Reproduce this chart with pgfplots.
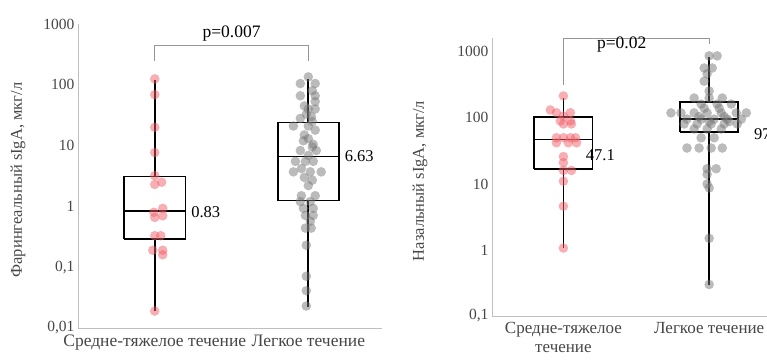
\documentclass[border=0pt]{standalone}
\usepackage{pgfplots}
\pgfplotsset{compat=1.18}
\usepackage{pgfplotstable}
\usepackage{fontspec}
\setmainfont{Liberation Serif}

\definecolor{pinkpt}{RGB}{240,95,105}
\definecolor{graypt}{RGB}{120,120,120}
\definecolor{axgray}{RGB}{191,191,191}
\definecolor{txtgray}{RGB}{70,70,70}
\definecolor{brgray}{RGB}{150,150,150}

% left panel: moderate-severe (group 1)
\pgfplotstableread{
x y
1.000 125
1.000 69
1.000 20
1.000 7.7
1.000 3.2
1.000 2.3
1.045 2.5
1.052 0.93
0.994 0.80
1.052 0.70
1.000 0.66
1.000 0.33
1.039 0.33
0.987 0.19
1.052 0.19
1.052 0.16
1.000 0.019
}\pharA
% left panel: mild (group 2)
\pgfplotstableread{
x y
2.000 135
1.948 105
2.045 105
2.026 80
1.948 66
2.045 66
2.045 53
1.974 45
2.000 40
2.045 40
1.987 33
2.020 30
1.948 28
2.026 25
1.903 21
2.000 21
2.045 18
1.974 15
2.000 13
1.968 12
2.032 10.5
2.026 9.5
1.948 8.3
2.052 8.3
2.000 6.9
1.916 5.5
1.981 5.5
2.032 5.5
1.955 4.2
1.903 3.7
2.013 3.7
2.084 3.7
1.974 3.0
2.026 2.7
2.000 2.2
1.955 1.5
2.045 1.5
1.948 1.2
2.013 1.2
1.968 0.93
2.032 0.93
1.981 0.71
2.032 0.71
2.013 0.57
1.981 0.44
2.019 0.44
1.987 0.23
1.987 0.071
1.987 0.041
1.987 0.023
}\pharB
% right panel: moderate-severe
\pgfplotstableread{
x y
1.000 215
0.910 132
0.952 120
1.048 120
1.000 107
0.979 90
1.048 90
1.000 81
1.055 81
0.952 50
1.000 50
1.048 50
1.083 50
0.952 42
1.034 42
1.090 42
1.000 26
1.000 21
1.000 16
1.055 16
1.000 11
1.000 4.6
1.000 1.07
}\nasA
% right panel: mild
\pgfplotstableread{
x y
2.000 870
2.055 870
1.966 570
2.021 570
1.986 465
1.966 360
2.000 255
1.897 200
2.000 200
2.090 200
1.945 162
2.055 162
2.152 162
1.966 140
2.069 140
1.738 119
1.807 119
1.897 119
1.986 119
2.083 119
2.186 119
2.255 119
1.931 105
2.103 105
1.848 96
1.945 96
2.034 96
2.124 96
2.221 96
2.000 88
2.138 88
1.828 81
1.917 81
2.014 81
2.103 81
2.193 81
1.897 68
1.986 68
2.083 68
1.945 50
2.034 50
1.848 35
1.931 35
2.014 35
2.090 35
1.986 17
2.048 17
1.986 14
1.986 10
2.000 8.7
2.000 1.5
2.000 0.3
}\nasB

\begin{document}
\begin{tikzpicture}
\useasboundingbox (0,0) rectangle (767pt,360pt);

% ---------------- Left panel ----------------
\begin{axis}[
  scale only axis,
  ymode=log,
  axis x line=bottom, axis y line=left,
  axis line style={-, draw=axgray, line width=1pt},
  major tick length=0pt,
  minor tick length=0pt,
  xtick={1,2},
  yticklabel style={font=\fontsize{15.5}{17}\selectfont, text=txtgray},
  xticklabel style={font=\fontsize{17.5}{19}\selectfont, text=txtgray, yshift=-3pt},
  clip=false,
  at={(78pt,32pt)}, anchor=south west,
  width=304pt, height=304pt,
  xmin=0.5, xmax=2.48,
  ymin=0.01, ymax=1000,
  ytick={0.01,0.1,1,10,100,1000},
  yticklabels={0{,}01,0{,}1,1,10,100,1000},
  xticklabels={Средне-тяжелое течение,Легкое течение},
  ylabel={Фарингеальный sIgA, мкг/л},
  every axis y label/.style={at={(axis description cs:-0.197,0.487)}, rotate=90, anchor=center, font=\fontsize{16.5}{18}\selectfont, text=txtgray},
]
% boxes
\addplot[black, line width=1.8pt, no marks] coordinates {(0.8,0.29) (1.2,0.29) (1.2,3.1) (0.8,3.1) (0.8,0.29)};
\addplot[black, line width=1.8pt, no marks] coordinates {(0.8,0.83) (1.2,0.83)};
\addplot[black, line width=1.8pt, no marks] coordinates {(1,3.1) (1,118)};
\addplot[black, line width=1.8pt, no marks] coordinates {(1,0.29) (1,0.019)};
\addplot[black, line width=1.8pt, no marks] coordinates {(1.8,1.25) (2.2,1.25) (2.2,24) (1.8,24) (1.8,1.25)};
\addplot[black, line width=1.8pt, no marks] coordinates {(1.8,6.63) (2.2,6.63)};
\addplot[black, line width=1.8pt, no marks] coordinates {(2,24) (2,125)};
\addplot[black, line width=1.8pt, no marks] coordinates {(2,1.25) (2,0.022)};
% points
\addplot[pinkpt, only marks, mark=*, mark size=4.8pt, mark options={draw opacity=0, fill=pinkpt, fill opacity=0.5}] table[x=x,y=y]{\pharA};
\addplot[graypt, only marks, mark=*, mark size=4.8pt, mark options={draw opacity=0, fill=graypt, fill opacity=0.5}] table[x=x,y=y]{\pharB};
% bracket
\addplot[brgray, line width=0.9pt, no marks] coordinates {(1,246) (1,437) (2,437) (2,246)};
\node[font=\fontsize{17.5}{19}\selectfont] at (axis cs:1.5,686) {p=0.007};
\node[font=\fontsize{16.5}{18}\selectfont, anchor=west] at (axis cs:1.215,0.80) {0.83};
\node[font=\fontsize{16.5}{18}\selectfont, anchor=west] at (axis cs:2.215,6.7) {6.63};
\end{axis}

% ---------------- Right panel ----------------
\begin{axis}[
  scale only axis,
  ymode=log,
  axis x line=bottom, axis y line=left,
  axis line style={-, draw=axgray, line width=1pt},
  major tick length=0pt,
  minor tick length=0pt,
  xtick={1,2},
  yticklabel style={font=\fontsize{15.5}{17}\selectfont, text=txtgray},
  xticklabel style={font=\fontsize{17}{18.5}\selectfont, text=txtgray, align=center, yshift=-3pt},
  clip=false,
  at={(492pt,44pt)}, anchor=south west,
  width=290pt, height=278pt,
  xmin=0.51, xmax=2.5,
  ymin=0.1, ymax=1622,
  ytick={0.1,1,10,100,1000},
  yticklabels={0{,}1,1,10,100,1000},
  xticklabels={{Средне-тяжелое\\течение},{Легкое течение}},
  ylabel={Назальный sIgA, мкг/л},
  every axis y label/.style={at={(axis description cs:-0.248,0.486)}, rotate=90, anchor=center, font=\fontsize{16.5}{18}\selectfont, text=txtgray},
]
\addplot[black, line width=1.8pt, no marks] coordinates {(0.8,17) (1.2,17) (1.2,102) (0.8,102) (0.8,17)};
\addplot[black, line width=1.8pt, no marks] coordinates {(0.8,47.1) (1.2,47.1)};
\addplot[black, line width=1.8pt, no marks] coordinates {(1,102) (1,200)};
\addplot[black, line width=1.8pt, no marks] coordinates {(1,17) (1,1.07)};
\addplot[black, line width=1.8pt, no marks] coordinates {(1.8,61) (2.2,61) (2.2,175) (1.8,175) (1.8,61)};
\addplot[black, line width=1.8pt, no marks] coordinates {(1.8,97.2) (2.2,97.2)};
\addplot[black, line width=1.8pt, no marks] coordinates {(2,175) (2,850)};
\addplot[black, line width=1.8pt, no marks] coordinates {(2,61) (2,0.29)};
\addplot[pinkpt, only marks, mark=*, mark size=4.8pt, mark options={draw opacity=0, fill=pinkpt, fill opacity=0.5}] table[x=x,y=y]{\nasA};
\addplot[graypt, only marks, mark=*, mark size=4.8pt, mark options={draw opacity=0, fill=graypt, fill opacity=0.5}] table[x=x,y=y]{\nasB};
\addplot[brgray, line width=0.9pt, no marks] coordinates {(1,316) (1,1574) (2,1574) (2,1318)};
\node[font=\fontsize{17.5}{19}\selectfont] at (axis cs:1.40,1277) {p=0.02};
\node[font=\fontsize{16.5}{18}\selectfont, anchor=west] at (axis cs:1.13,27) {47.1};
\node[font=\fontsize{16.5}{18}\selectfont, anchor=west] at (axis cs:2.285,57) {97.2};
\end{axis}
\end{tikzpicture}
\end{document}
